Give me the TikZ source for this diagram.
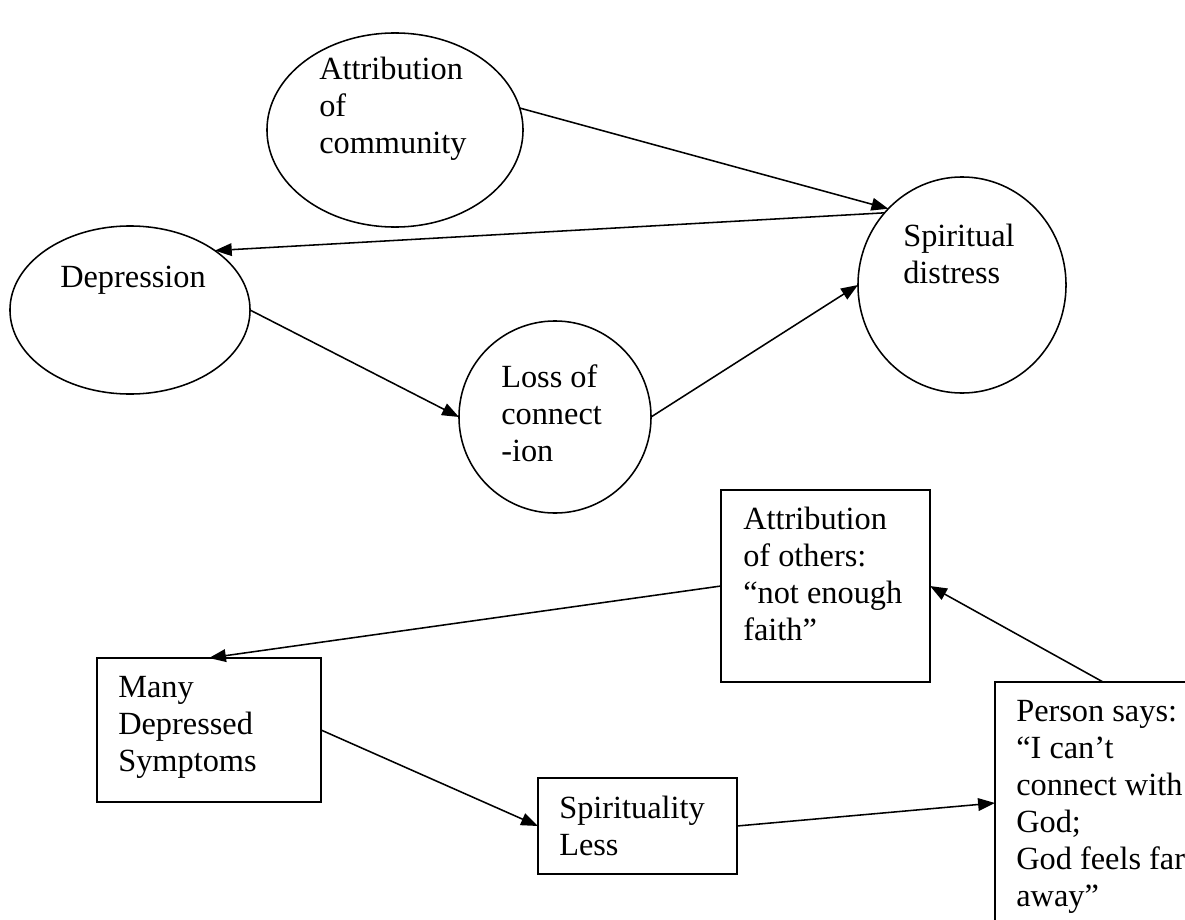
\documentclass[tikz,border=0pt]{standalone}
\usepackage{fontspec}
\setmainfont{Liberation Serif}
\usetikzlibrary{shapes.geometric,arrows.meta}

\begin{document}
\begin{tikzpicture}[x=0.025cm,y=-0.025cm,
    oval/.style={draw,ellipse,line width=1.1pt,inner sep=0pt,outer sep=0pt},
    box/.style={draw,rectangle,line width=1.1pt,inner sep=0pt,outer sep=0pt},
    txt/.style={anchor=base west,align=left,inner sep=0pt,font=\fontsize{23}{26.3}\selectfont},
    arr/.style={line width=1.1pt,-{Triangle[length=12pt,width=9pt]}}]
                \clip (0,0) rectangle (1185,920);

                % upper part: ovals
                \node[oval,minimum width=6.4cm,minimum height=4.85cm] (comm) at (395,130) {};
                \node[oval,minimum width=6cm,minimum height=4.2cm] (dep) at (130,310) {};
                \node[oval,minimum width=4.8cm,minimum height=4.8cm] (loss) at (555,417) {};
                \node[oval,minimum width=5.2cm,minimum height=5.4cm] (spir) at (962,285) {};

                % text sits on the baseline of its last line
                \node[txt] (commtxt) at (319,153) {Attribution\\of\\community};
                \node[txt] (deptxt) at (60,287) {Depression};
                \node[txt] (losstxt) at (501,461) {Loss of\\connect\\-ion};
                \node[txt] (spirtxt) at (903,283) {Spiritual\\distress};

                \draw[arr] (comm.10) -- (spir.134);
                \draw[arr] (spir.137) -- (dep.35);
                \draw[arr] (dep.east) -- (loss.west);
                \draw[arr] (loss.east) -- (spir.west);

                % lower part: boxes
                \node[box,minimum width=5.225cm,minimum height=4.8cm] (others) at (825.5,586) {};
                \node[box,minimum width=5.6cm,minimum height=3.6cm] (many) at (209,730) {};
                \node[box,minimum width=4.975cm,minimum height=2.4cm] (less) at (637.5,826) {};
                \node[box,minimum width=5.4cm,minimum height=6.05cm] (person) at (1103,803) {};

                \node[txt] (otherstxt) at (743,640) {Attribution\\of others:\\“not enough\\faith”};
                \node[txt] (manytxt) at (118,771) {Many\\Depressed\\Symptoms};
                \node[txt] (lesstxt) at (559,855) {Spirituality\\Less};
                \node[txt] (persontxt) at (1016,906) {Person says:\\“I can’t\\connect with\\God;\\God feels far\\away”};

                \draw[arr] (others.west) -- (many.north);
                \draw[arr] (many.east) -- (less.west);
                \draw[arr] (less.east) -- (person.west);
                \draw[arr] (person.north) -- (others.east);
\end{tikzpicture}
\end{document}
